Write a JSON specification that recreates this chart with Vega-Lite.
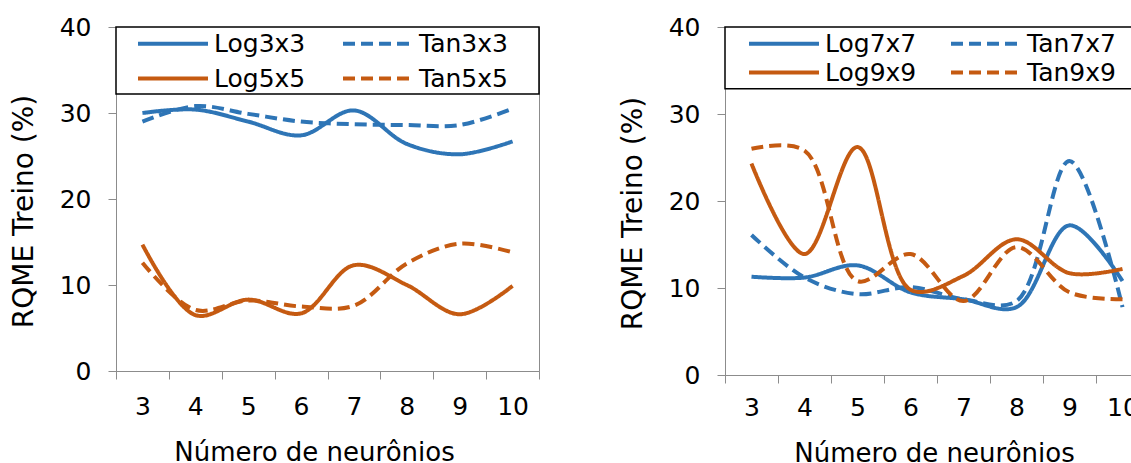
{
  "$schema": "https://vega.github.io/schema/vega-lite/v6.json",
  "padding": {"left": 9, "top": 14, "right": 0, "bottom": 0},
  "spacing": 77,
  "config": {
    "font": "DejaVu Sans",
    "view": {"stroke": "#8c8c8c", "strokeWidth": 1},
    "axis": {
      "labelFont": "DejaVu Sans", "labelFontSize": 25, "labelColor": "#000000",
      "titleFont": "DejaVu Sans", "titleFontSize": 26, "titleFontWeight": "normal", "titleColor": "#000000",
      "domainColor": "#8c8c8c", "tickColor": "#8c8c8c", "tickSize": 8, "grid": false
    },
    "legend": {
      "symbolType": "stroke", "symbolSize": 4900, "symbolStrokeWidth": 4,
      "labelFont": "DejaVu Sans", "labelFontSize": 25, "labelColor": "#000000",
      "labelOffset": 4, "padding": 0, "clipHeight": 25
    },
    "line": {"strokeWidth": 4, "interpolate": "catmull-rom"}
  },
  "datasets": {
    "left": [
      {"s": "Log3x3", "n": 3, "v": 30.0}, {"s": "Log3x3", "n": 4, "v": 30.4}, {"s": "Log3x3", "n": 5, "v": 29.0}, {"s": "Log3x3", "n": 6, "v": 27.4},
      {"s": "Log3x3", "n": 7, "v": 30.3}, {"s": "Log3x3", "n": 8, "v": 26.4}, {"s": "Log3x3", "n": 9, "v": 25.2}, {"s": "Log3x3", "n": 10, "v": 26.7},
      {"s": "Tan3x3", "n": 3, "v": 29.0}, {"s": "Tan3x3", "n": 4, "v": 30.8}, {"s": "Tan3x3", "n": 5, "v": 29.9}, {"s": "Tan3x3", "n": 6, "v": 29.0},
      {"s": "Tan3x3", "n": 7, "v": 28.7}, {"s": "Tan3x3", "n": 8, "v": 28.6}, {"s": "Tan3x3", "n": 9, "v": 28.6}, {"s": "Tan3x3", "n": 10, "v": 30.5},
      {"s": "Log5x5", "n": 3, "v": 14.7}, {"s": "Log5x5", "n": 4, "v": 6.5}, {"s": "Log5x5", "n": 5, "v": 8.3}, {"s": "Log5x5", "n": 6, "v": 6.7},
      {"s": "Log5x5", "n": 7, "v": 12.3}, {"s": "Log5x5", "n": 8, "v": 10.0}, {"s": "Log5x5", "n": 9, "v": 6.6}, {"s": "Log5x5", "n": 10, "v": 9.9},
      {"s": "Tan5x5", "n": 3, "v": 12.6}, {"s": "Tan5x5", "n": 4, "v": 7.1}, {"s": "Tan5x5", "n": 5, "v": 8.2}, {"s": "Tan5x5", "n": 6, "v": 7.5},
      {"s": "Tan5x5", "n": 7, "v": 7.6}, {"s": "Tan5x5", "n": 8, "v": 12.5}, {"s": "Tan5x5", "n": 9, "v": 14.8}, {"s": "Tan5x5", "n": 10, "v": 13.8}
    ],
    "right": [
      {"s": "Log7x7", "n": 3, "v": 11.3}, {"s": "Log7x7", "n": 4, "v": 11.2}, {"s": "Log7x7", "n": 5, "v": 12.6}, {"s": "Log7x7", "n": 6, "v": 9.5},
      {"s": "Log7x7", "n": 7, "v": 8.7}, {"s": "Log7x7", "n": 8, "v": 7.8}, {"s": "Log7x7", "n": 9, "v": 17.2}, {"s": "Log7x7", "n": 10, "v": 10.8},
      {"s": "Tan7x7", "n": 3, "v": 16.1}, {"s": "Tan7x7", "n": 4, "v": 11.2}, {"s": "Tan7x7", "n": 5, "v": 9.3}, {"s": "Tan7x7", "n": 6, "v": 10.1},
      {"s": "Tan7x7", "n": 7, "v": 8.7}, {"s": "Tan7x7", "n": 8, "v": 8.5}, {"s": "Tan7x7", "n": 9, "v": 24.6}, {"s": "Tan7x7", "n": 10, "v": 7.8},
      {"s": "Log9x9", "n": 3, "v": 24.3}, {"s": "Log9x9", "n": 4, "v": 13.9}, {"s": "Log9x9", "n": 5, "v": 26.2}, {"s": "Log9x9", "n": 6, "v": 9.8},
      {"s": "Log9x9", "n": 7, "v": 11.4}, {"s": "Log9x9", "n": 8, "v": 15.6}, {"s": "Log9x9", "n": 9, "v": 11.7}, {"s": "Log9x9", "n": 10, "v": 12.2},
      {"s": "Tan9x9", "n": 3, "v": 26.0}, {"s": "Tan9x9", "n": 4, "v": 25.8}, {"s": "Tan9x9", "n": 5, "v": 10.8}, {"s": "Tan9x9", "n": 6, "v": 13.9},
      {"s": "Tan9x9", "n": 7, "v": 8.5}, {"s": "Tan9x9", "n": 8, "v": 14.7}, {"s": "Tan9x9", "n": 9, "v": 9.5}, {"s": "Tan9x9", "n": 10, "v": 8.7}
    ]
  },
  "hconcat": [
    {
      "width": 423, "height": 344,
      "layer": [
        {
          "data": {"values": [{}]},
          "mark": {"type": "rect", "fill": "#ffffff", "stroke": "#000000", "strokeWidth": 1.5},
          "encoding": {"x": {"value": 0}, "x2": {"value": "width"}, "y": {"datum": 40, "type": "quantitative"}, "y2": {"datum": 32.2}}
        },
        {
          "data": {"name": "left"},
          "mark": "line",
          "encoding": {
            "x": {"field": "n", "type": "ordinal", "bandPosition": 0.5, "scale": {"type": "band", "paddingInner": 0, "paddingOuter": 0},
                  "axis": {"title": "Número de neurônios", "labelAngle": 0, "tickBand": "extent", "labelPadding": 15, "titlePadding": 20, "titleX": 198}},
            "y": {"field": "v", "type": "quantitative", "scale": {"domain": [0, 40]},
                  "axis": {"title": "RQME Treino (%)", "values": [0, 10, 20, 30, 40], "labelPadding": 17, "titlePadding": 21, "titleFontSize": 28, "titleY": 184}},
            "color": {"field": "s", "type": "nominal",
                      "scale": {"domain": ["Log3x3", "Log5x5", "Tan3x3", "Tan5x5"], "range": ["#2e75b6", "#c55a11", "#2e75b6", "#c55a11"]},
                      "legend": {"title": null, "orient": "none", "legendX": 20, "legendY": 4, "columns": 2, "rowPadding": 9, "columnPadding": 35}},
            "strokeDash": {"field": "s", "type": "nominal",
                      "scale": {"domain": ["Log3x3", "Log5x5", "Tan3x3", "Tan5x5"], "range": [[1, 0], [1, 0], [12, 6], [12, 6]]},
                      "legend": {"title": null, "orient": "none", "legendX": 20, "legendY": 4, "columns": 2, "rowPadding": 9, "columnPadding": 35}}
          }
        }
      ]
    },
    {
      "width": 424, "height": 348,
      "layer": [
        {
          "data": {"values": [{}]},
          "mark": {"type": "rect", "fill": "#ffffff", "stroke": "#000000", "strokeWidth": 1.5},
          "encoding": {"x": {"value": 0}, "x2": {"value": "width"}, "y": {"datum": 40, "type": "quantitative"}, "y2": {"datum": 32.9}}
        },
        {
          "data": {"name": "right"},
          "mark": "line",
          "encoding": {
            "x": {"field": "n", "type": "ordinal", "bandPosition": 0.5, "scale": {"type": "band", "paddingInner": 0, "paddingOuter": 0},
                  "axis": {"title": "Número de neurônios", "labelAngle": 0, "tickBand": "extent", "labelPadding": 12, "titlePadding": 20, "titleX": 209}},
            "y": {"field": "v", "type": "quantitative", "scale": {"domain": [0, 40]},
                  "axis": {"title": "RQME Treino (%)", "values": [0, 10, 20, 30, 40], "labelPadding": 17, "titlePadding": 21, "titleFontSize": 28, "titleY": 186}},
            "color": {"field": "s", "type": "nominal",
                      "scale": {"domain": ["Log7x7", "Log9x9", "Tan7x7", "Tan9x9"], "range": ["#2e75b6", "#c55a11", "#2e75b6", "#c55a11"]},
                      "legend": {"title": null, "orient": "none", "legendX": 22, "legendY": 4, "columns": 2, "rowPadding": 3, "columnPadding": 32}},
            "strokeDash": {"field": "s", "type": "nominal",
                      "scale": {"domain": ["Log7x7", "Log9x9", "Tan7x7", "Tan9x9"], "range": [[1, 0], [1, 0], [12, 6], [12, 6]]},
                      "legend": {"title": null, "orient": "none", "legendX": 22, "legendY": 4, "columns": 2, "rowPadding": 3, "columnPadding": 32}}
          }
        }
      ]
    }
  ],
  "resolve": {
    "scale": {"x": "independent", "y": "independent", "color": "independent", "strokeDash": "independent"},
    "legend": {"color": "independent", "strokeDash": "independent"}
  }
}
